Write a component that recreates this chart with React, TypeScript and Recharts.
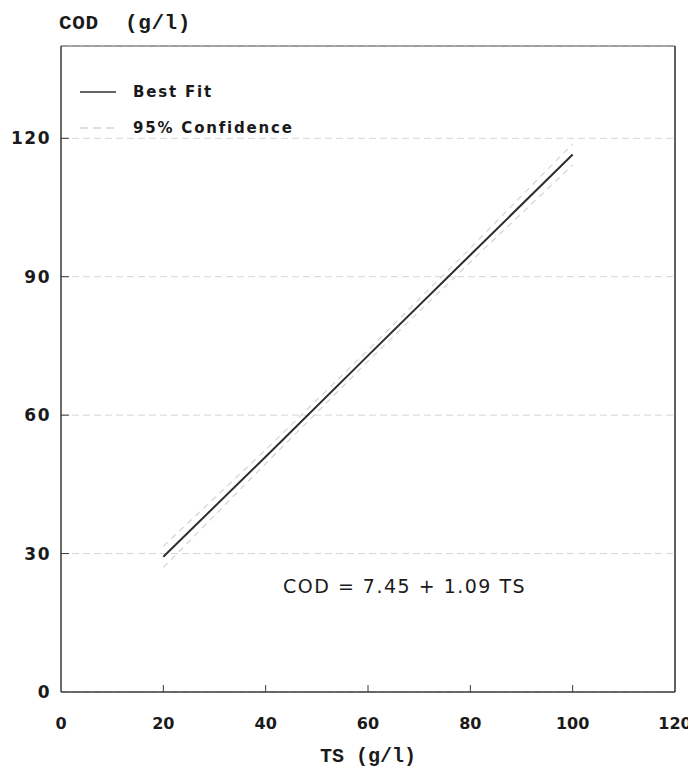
import React from 'react';
import {
  LineChart,
  Line,
  XAxis,
  YAxis,
  CartesianGrid,
  ReferenceLine,
} from 'recharts';

// TS (g/l) positions and COD (g/l)
const tsValues = [20, 40, 60, 80, 100];
const bestFit = [29.3, 51.0, 72.9, 94.7, 116.5];
const upper95 = [31.6, 52.5, 74.1, 96.2, 118.8];
const lower95 = [27.0, 49.5, 71.7, 93.2, 114.2];

const xTicks = [0, 20, 40, 60, 80, 100, 120];
const yTicks = [0, 30, 60, 90, 120];

const data = tsValues.map((ts, i) => ({
  ts,
  fit: bestFit[i],
  upper: upper95[i],
  lower: lower95[i],
}));

const font = '"DejaVu Sans", sans-serif';
const mono = '"Liberation Mono", "DejaVu Sans Mono", monospace';
const axisColor = '#3a3a3a';
const confColor = '#d4d4d4';

const XTick = (props: any) => {
  const { x, y, payload } = props;
  return (
    <g>
      {payload.value !== 0 && payload.value !== 120 && (
        <line x1={x} y1={y} x2={x} y2={y - 7} stroke={axisColor} strokeWidth={1} />
      )}
      <text
        x={x}
        y={y + 37}
        textAnchor="middle"
        fontFamily={font}
        fontWeight="bold"
        fontSize={16}
        fill="#1a1a1a"
      >
        {payload.value}
      </text>
    </g>
  );
};

const YTick = (props: any) => {
  const { x, y, payload } = props;
  return (
    <g>
      {payload.value !== 0 && (
        <line x1={x} y1={y} x2={x + 8} y2={y} stroke={axisColor} strokeWidth={1} />
      )}
      <text
        x={x - 10}
        y={y + 6}
        textAnchor="end"
        fontFamily={font}
        fontWeight="bold"
        fontSize={17}
        letterSpacing={1.5}
        fill="#1a1a1a"
      >
        {payload.value}
      </text>
    </g>
  );
};

const LegendBox = () => (
  <div
    style={{
      position: 'absolute',
      left: 72,
      top: 66,
      fontFamily: font,
      fontWeight: 'bold',
      fontSize: 15,
      letterSpacing: 1.8,
      color: '#1a1a1a',
    }}
  >
    <div style={{ display: 'flex', alignItems: 'center', height: 36 }}>
      <svg width={53} height={4}>
        <line x1={0} y1={2} x2={36} y2={2} stroke="#333" strokeWidth={1.6} />
      </svg>
      <span>Best Fit</span>
    </div>
    <div style={{ display: 'flex', alignItems: 'center', height: 36 }}>
      <svg width={53} height={4}>
        <line x1={0} y1={2} x2={36} y2={2} stroke={confColor} strokeWidth={1.5} strokeDasharray="8 5" />
      </svg>
      <span>95% Confidence</span>
    </div>
  </div>
);

export default function App() {
  return (
    <div style={{ position: 'relative', width: 688, height: 760 }}>
      <div
        style={{
          position: 'absolute',
          left: 51,
          top: 4,
          fontFamily: mono,
          fontSize: 21,
          fontWeight: 'bold',
          letterSpacing: 0.6,
          color: '#1a1a1a',
          whiteSpace: 'pre',
        }}
      >
        {'COD  (g/l)'}
      </div>
      <LineChart
        width={688}
        height={760}
        data={data}
        margin={{ top: 38, right: 21, bottom: 36, left: 3 }}
      >
        <CartesianGrid
          horizontal
          vertical={false}
          stroke="#d6d6d6"
          strokeDasharray="7 4"
        />
        <XAxis
          dataKey="ts"
          type="number"
          domain={[0, 120]}
          ticks={xTicks}
          interval={0}
          height={40}
          tickSize={0}
          tickMargin={0}
          tickLine={false}
          tick={<XTick />}
          axisLine={{ stroke: axisColor, strokeWidth: 1.5 }}
          label={{
            value: 'TS  (g/l)',
            position: 'insideBottom',
            offset: -30,
            style: { fontFamily: mono, fontWeight: 'bold', fontSize: 20, fill: '#1a1a1a', whiteSpace: 'pre' },
          }}
        />
        <YAxis
          type="number"
          domain={[0, 140]}
          ticks={yTicks}
          interval={0}
          width={50}
          tickSize={0}
          tickMargin={0}
          tickLine={false}
          tick={<YTick />}
          axisLine={{ stroke: axisColor, strokeWidth: 1.5 }}
        />
        <ReferenceLine y={140} stroke="#555" strokeWidth={1.2} ifOverflow="visible" />
        <ReferenceLine x={120} stroke={axisColor} strokeWidth={1.6} ifOverflow="visible" />
        <Line
          dataKey="upper"
          stroke={confColor}
          strokeWidth={1.2}
          strokeDasharray="6 5"
          dot={false}
          isAnimationActive={false}
        />
        <Line
          dataKey="lower"
          stroke={confColor}
          strokeWidth={1.2}
          strokeDasharray="6 5"
          dot={false}
          isAnimationActive={false}
        />
        <Line
          dataKey="fit"
          stroke="#2e2e2e"
          strokeWidth={2}
          dot={false}
          isAnimationActive={false}
        />
      </LineChart>
      <LegendBox />
      <div
        style={{
          position: 'absolute',
          left: 275,
          top: 567,
          fontFamily: font,
          fontSize: 19,
          color: '#1a1a1a',
          letterSpacing: 1.5,
          whiteSpace: 'pre',
        }}
      >
        {'COD = 7.45 + 1.09 TS'}
      </div>
    </div>
  );
}
